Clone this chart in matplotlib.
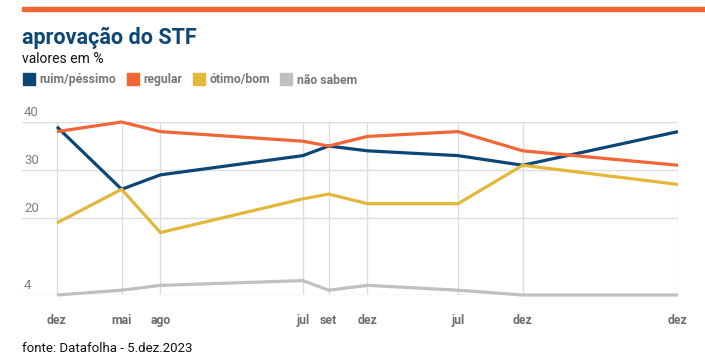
import numpy as np
import matplotlib
matplotlib.use("Agg")
import matplotlib.pyplot as plt
from matplotlib.lines import Line2D
from matplotlib.patches import Rectangle

plt.rcParams['font.family'] = ['Roboto', 'DejaVu Sans']

# ===== dados =====
datas = ['2019-12', '2020-05', '2020-08', '2021-07', '2021-09',
         '2021-12', '2022-07', '2022-12', '2023-12']
rotulos_x = ['dez', 'mai', 'ago', 'jul', 'set', 'dez', 'jul', 'dez', 'dez']
ruim_pessimo = [39, 26, 29, 33, 35, 34, 33, 31, 38]
regular = [38, 40, 38, 36, 35, 37, 38, 34, 31]
otimo_bom = [19, 26, 17, 24, 25, 23, 23, 31, 27]
nao_sabem = [4, 5, 6, 7, 5, 6, 5, 4, 4]
y_ticks = [4, 20, 30, 40]

series = [
    ('ruim/péssimo', ruim_pessimo, '#0b4677'),
    ('regular', regular, '#f26535'),
    ('ótimo/bom', otimo_bom, '#e3b73c'),
    ('não sabem', nao_sabem, '#c0c0c0'),
]

# meses desde a primeira pesquisa
meses = np.array(datas, dtype='datetime64[M]').astype(int)
x = meses - meses[0]

W, H = 705, 363
fig = plt.figure(figsize=(W / 100, H / 100), dpi=100)
ax = fig.add_axes([22 / W, 68 / H, (678 - 22) / W, (295 - 122) / H])

for nome, vals, cor in series:
    ax.plot(x, vals, color=cor, lw=2.3, clip_on=False, zorder=3,
            solid_capstyle='butt')

x_esq = x[0] - 2.7
ax.set_xlim(x_esq, x[-1])
ax.set_ylim(4, 40)

# grade
for yv in y_ticks:
    ax.axhline(yv, color='#dddddd', lw=1, zorder=1)
    ax.text(x_esq + 0.15, yv + 1.9, str(yv), color='#808080', fontsize=9.5,
            ha='left', va='center')
for xv in x:
    ax.axvline(xv, color='#dddddd', lw=1, zorder=1)

ax.set_xticks(x)
ax.set_xticklabels(rotulos_x, fontsize=8.8, fontweight='bold', color='#6e6e6e')
ax.tick_params(axis='x', length=0, pad=14)
ax.set_yticks([])
for s in ax.spines.values():
    s.set_visible(False)

# barra laranja no topo
fig.patches.append(Rectangle((22 / W, 1 - 10.5 / H), 1 - 22 / W, 4 / H,
                             transform=fig.transFigure, color='#f26535'))

fig.text(22 / W, 1 - 38 / H, 'aprovação do STF', fontsize=15.5, fontweight='bold',
         color='#0b4677', va='center', ha='left')
fig.text(22 / W, 1 - 59 / H, 'valores em %', fontsize=10, color='#111111',
         va='center', ha='left')

handles = [Line2D([], [], marker='s', ls='none', markersize=8.5,
                  markerfacecolor=c, markeredgecolor=c) for _, _, c in series]
fig.legend(handles, [n for n, _, _ in series], loc='center left',
           bbox_to_anchor=(22 / W - 0.012, 1 - 80 / H), ncol=4, frameon=False,
           handlelength=0.8, handletextpad=0.45, columnspacing=0.95,
           prop={'size': 8.8, 'weight': 'bold'}, labelcolor='#777777')

fig.text(22 / W, 1 - 348 / H, 'fonte: Datafolha - 5.dez.2023', fontsize=9.5,
         color='#111111', va='center', ha='left')

fig.savefig('out.png', dpi=100)
